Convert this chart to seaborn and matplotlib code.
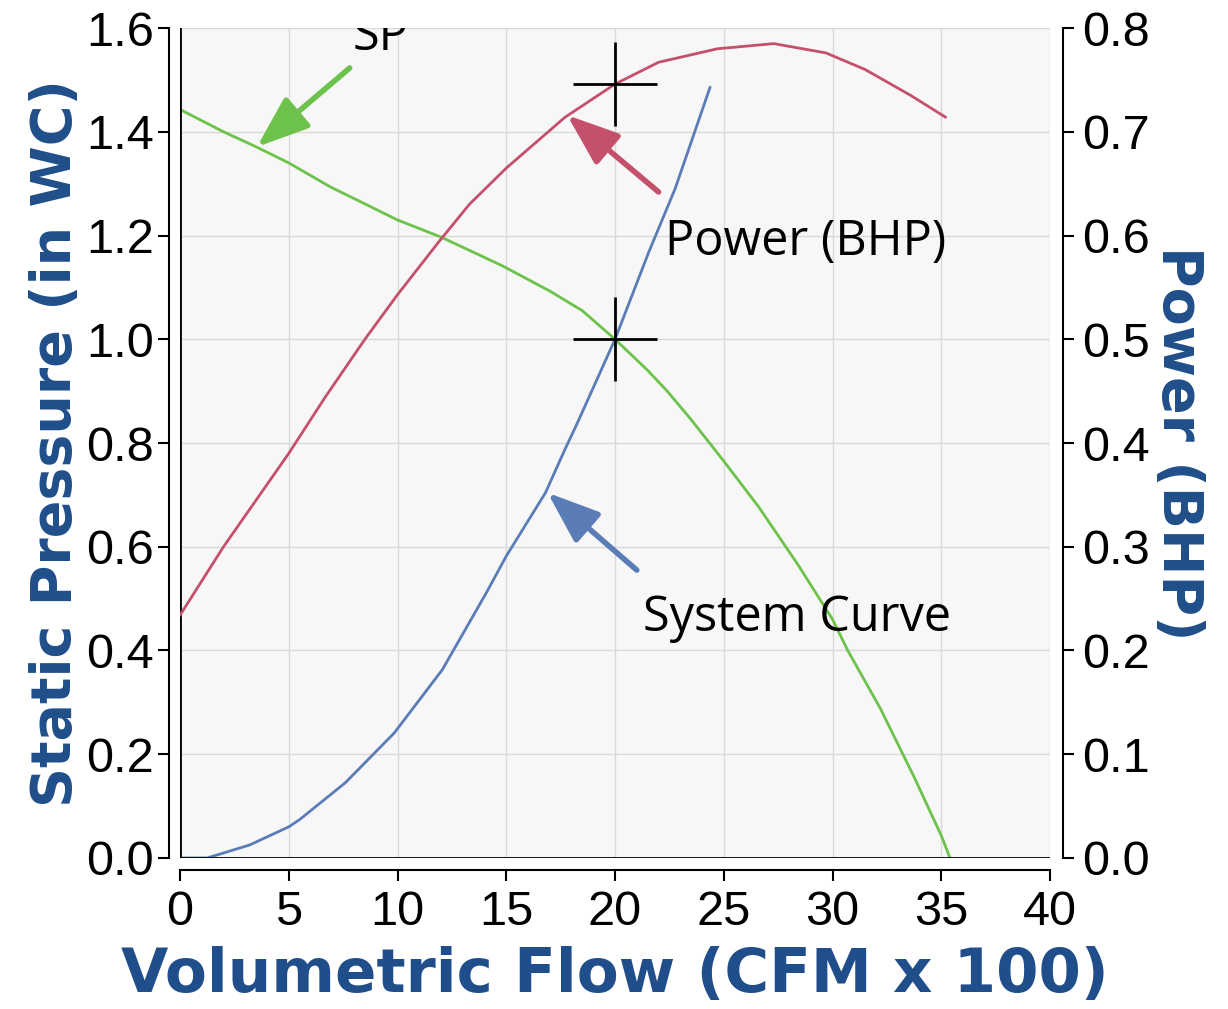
import numpy as np
import pandas as pd
import matplotlib.pyplot as plt
import seaborn as sns

# fan curve, static pressure (in WC) vs flow (CFM x 100)
sp_flow = [0, 2, 3.5, 5, 6.9, 10, 12, 14.8, 17, 18.5, 20, 21.5, 22.4, 23.5, 25, 26.6, 28.4, 30, 30.7, 32.2,
           33.75, 35, 35.4]
sp_vals = [1.443, 1.40, 1.371, 1.34, 1.294, 1.23, 1.197, 1.142, 1.093, 1.055, 1.0, 0.94, 0.90, 0.845, 0.765,
           0.677, 0.566, 0.46, 0.40, 0.288, 0.156, 0.043, 0.0]

# system curve
sys_flow = [0, 1.25, 3.2, 5, 5.5, 7.6, 9.85, 12.06, 14.08, 15, 16.8, 17.7, 18.24, 20, 21.55, 22.76, 24.37]
sys_vals = [0.0, 0.0, 0.025, 0.06, 0.074, 0.145, 0.241, 0.363, 0.511, 0.582, 0.704, 0.788, 0.836, 1.0, 1.168,
            1.29, 1.486]

# brake horsepower
bhp_flow = [0, 2, 5, 6.7, 8.5, 10, 11.9, 13.3, 15, 17.7, 20, 22, 24.7, 27.3, 29.7, 31.5, 33.6, 35.2]
bhp_vals = [0.234, 0.30, 0.39, 0.445, 0.50, 0.543, 0.594, 0.630, 0.665, 0.714, 0.746, 0.767, 0.780, 0.785,
            0.776, 0.760, 0.735, 0.714]

# operating point
op_flow = 20
op_sp = 1.0
op_bhp = 0.746

green = '#6cc24a'
red = '#c4506c'
blue = '#5a7db8'
label_blue = '#1f4e8a'

sns.set_theme(style='ticks')
plt.rcParams['font.family'] = ['Liberation Sans', 'DejaVu Sans']

fig = plt.figure(figsize=(12.28, 10.09), dpi=100)
ax = fig.add_axes([0.1466, 0.1497, 0.7085, 0.8225])
ax.set_facecolor('#f7f7f7')
ax2 = ax.twinx()

sns.lineplot(x=sp_flow, y=sp_vals, ax=ax, color=green, linewidth=2)
sns.lineplot(x=sys_flow, y=sys_vals, ax=ax, color=blue, linewidth=2)
sns.lineplot(x=bhp_flow, y=bhp_vals, ax=ax2, color=red, linewidth=2)

sns.scatterplot(x=[op_flow], y=[op_sp], ax=ax, marker='+', s=3600, color='black', linewidth=2, zorder=5)
sns.scatterplot(x=[op_flow], y=[op_bhp], ax=ax2, marker='+', s=3600, color='black', linewidth=2, zorder=5)

ax.set_xlim(0, 40)
ax.set_ylim(0, 1.6)
ax2.set_ylim(0, 0.8)
ax.set_xticks(np.arange(0, 41, 5))
ax.set_yticks(np.arange(0, 1.61, 0.2))
ax2.set_yticks(np.arange(0, 0.81, 0.1))
ax.set_yticklabels([f'{v:.1f}' for v in np.arange(0, 1.61, 0.2)])
ax2.set_yticklabels([f'{v:.1f}' for v in np.arange(0, 0.81, 0.1)])

ax.grid(True, color='#d9d9d9', linewidth=1)
ax.axhline(0, color='black', linewidth=2, zorder=4)
ax.axvline(0, color='black', linewidth=2, zorder=4)

for s in ['top', 'right']:
    ax.spines[s].set_visible(False)
for s in ['top', 'left', 'bottom']:
    ax2.spines[s].set_visible(False)
ax.spines['left'].set_position(('outward', 8))
ax.spines['bottom'].set_position(('outward', 9))
ax2.spines['right'].set_position(('outward', 9))
for sp in [ax.spines['left'], ax.spines['bottom'], ax2.spines['right']]:
    sp.set_color('black')
    sp.set_linewidth(1.5)

ax.tick_params(axis='both', labelsize=35, length=8, width=1.5, color='black', labelcolor='black', pad=3)
ax.tick_params(axis='x', pad=6)
ax2.tick_params(axis='y', labelsize=35, length=8, width=1.5, color='black', labelcolor='black', pad=6)

ax.set_xlabel('Volumetric Flow (CFM x 100)', family='DejaVu Sans', fontweight='bold',
              fontsize=44, color=label_blue, labelpad=8)
ax.set_ylabel('Static Pressure (in WC)', family='DejaVu Sans', fontweight='bold',
              fontsize=40, color=label_blue, labelpad=2)
ax2.set_ylabel('Power (BHP)', family='DejaVu Sans', fontweight='bold',
               fontsize=40, color=label_blue, rotation=-90, labelpad=40)

# callouts
arrow_kw = dict(arrowstyle='-|>,head_length=0.8,head_width=0.3', lw=4, shrinkA=0, shrinkB=0, mutation_scale=40)
ax.annotate('', xy=(3.54, 1.371), xytext=(7.8, 1.523), arrowprops=dict(color=green, **arrow_kw))
ax.annotate('', xy=(17.8, 1.432), xytext=(22.0, 1.284), arrowprops=dict(color=red, **arrow_kw))
ax.annotate('', xy=(16.9, 0.704), xytext=(21.0, 0.555), arrowprops=dict(color=blue, **arrow_kw))

txt = dict(family='Open Sans', fontsize=35, color='black', va='baseline')
ax.text(9.2, 1.557, 'SP', ha='center', clip_on=True, **txt)
ax.text(22.3, 1.162, 'Power (BHP)', ha='left', **txt)
ax.text(21.3, 0.437, 'System Curve', ha='left', **txt)

plt.savefig('out.png', dpi=100)
